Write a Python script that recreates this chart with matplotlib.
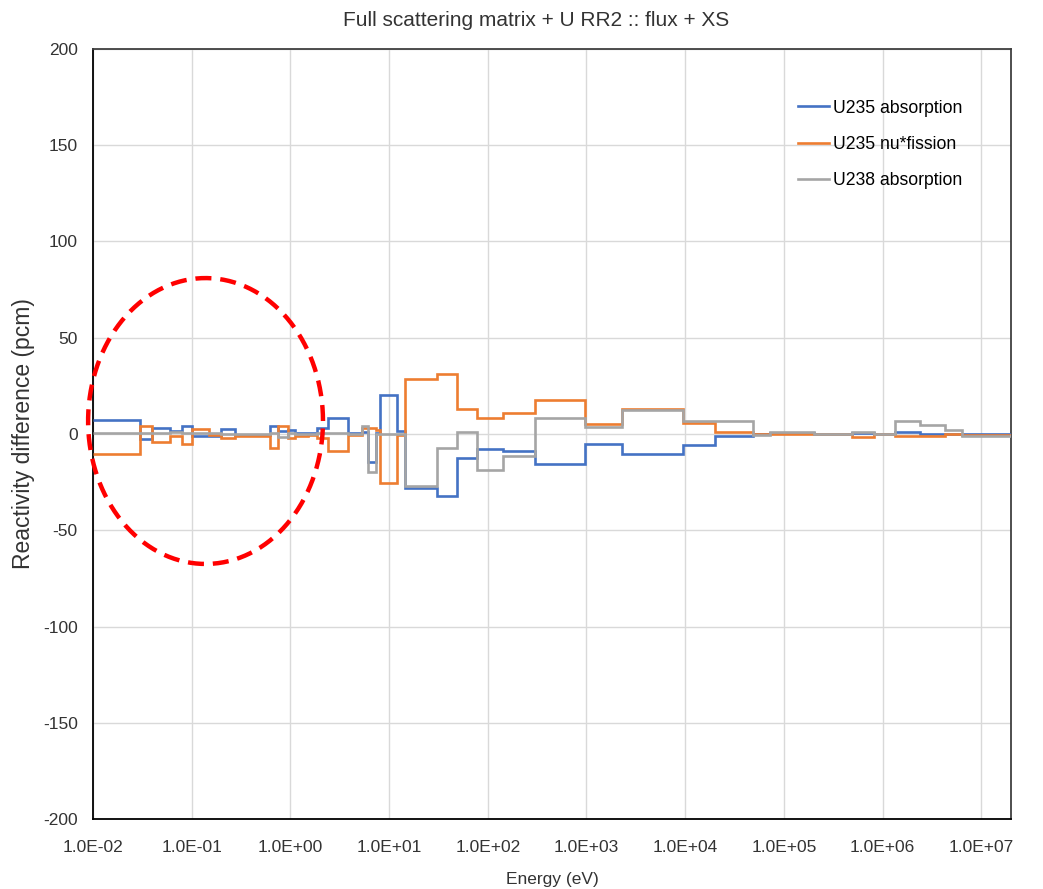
import numpy as np
import matplotlib.pyplot as plt

# ---------------- Data ----------------

# Energy group boundaries (eV), low to high
EDGES = [
    1.0e-2, 3.0e-2, 4.0e-2, 6.0e-2, 8.0e-2, 1.0e-1, 1.5e-1, 2.0e-1, 2.75e-1,
    6.25e-1, 7.5e-1, 9.5e-1, 1.12, 1.5, 1.87, 2.4, 3.85, 5.3, 6.1, 7.4,
    8.1, 12.1, 14.6, 30.7, 49.0, 78.0, 143.0, 303.0, 970.0, 2.3e3,
    9.6e3, 2.02e4, 4.9e4, 7.3e4, 2.0e5, 4.95e5, 8.1e5, 1.35e6, 2.42e6,
    4.33e6, 6.45e6, 2.0e7,
]

# Reactivity difference per group (pcm)
U235_ABS = [
    7.1, -2.8, 3.3, 1.5, 4.2, -1.0, -1.0, 2.4, -0.3,
    4.2, 1.5, 2.0, 0.7, 0.3, 3.0, 8.1, 0.5, 1.0, -14.4,
    0.5, 20.3, 1.5, -28.0, -32.2, -12.3, -8.0, -8.8, -15.4, -5.4,
    -10.5, -5.7, -1.0, 0.0, 0.3, 0.0, 0.3, 0.0, 1.2, 0.0,
    0.0, 0.0,
]
U235_NUFIS = [
    -10.2, 4.2, -4.0, -1.0, -5.4, 2.5, -0.5, -2.0, -1.0,
    -7.4, 4.0, -2.0, -1.0, -0.5, -2.0, -8.8, -0.5, 3.0, 3.3,
    2.0, -25.5, -0.5, 28.4, 31.0, 12.8, 8.5, 11.0, 17.7, 5.0,
    12.8, 5.9, 1.2, 0.0, -0.2, 0.0, -1.5, 0.0, -1.0, -1.0,
    0.0, -0.3,
]
U238_ABS = [
    0.7, 0.7, 0.5, 1.0, 0.5, 0.3, 0.3, 0.2, 0.0,
    0.5, -1.5, 0.3, 0.0, 0.0, 0.3, 0.3, 0.0, 4.0, -19.6,
    0.0, 0.0, 0.0, -27.2, -7.4, 1.2, -18.9, -11.4, 8.5, 3.8,
    12.5, 6.8, 6.8, -0.3, 1.2, 0.0, 1.2, 0.0, 7.0, 4.7,
    2.0, -1.0,
]

SERIES = [
    ("U235 absorption", U235_ABS, "#4472C4"),
    ("U235 nu*fission", U235_NUFIS, "#ED7D31"),
    ("U238 absorption", U238_ABS, "#A5A5A5"),
]

X_TICKS = [1e-2, 1e-1, 1e0, 1e1, 1e2, 1e3, 1e4, 1e5, 1e6, 1e7]
X_TICK_LABELS = ["1.0E-02", "1.0E-01", "1.0E+00", "1.0E+01", "1.0E+02",
                 "1.0E+03", "1.0E+04", "1.0E+05", "1.0E+06", "1.0E+07"]
Y_TICKS = [-200, -150, -100, -50, 0, 50, 100, 150, 200]

# Highlight ring around the thermal range: centre (log10 E, pcm) and half-sizes
RING_CENTER = (-0.86, 6.75)
RING_HALF = (1.19, 74.25)

# ---------------- Plot ----------------

plt.rcParams["font.family"] = ["Liberation Sans", "DejaVu Sans"]
plt.rcParams["axes.unicode_minus"] = False

fig = plt.figure(figsize=(10.43, 8.89), dpi=100)
ax = fig.add_axes([0.0892, 0.0787, 0.8801, 0.8662])

for label, vals, color in SERIES:
    ax.stairs(vals, EDGES, baseline=None, color=color, linewidth=1.9,
              label=label, zorder=3)

ax.set_xscale("log")
ax.set_xlim(1e-2, 2e7)
ax.set_ylim(-200, 200)
ax.set_xticks(X_TICKS)
ax.set_xticklabels(X_TICK_LABELS)
ax.minorticks_off()
ax.set_yticks(Y_TICKS)
ax.tick_params(axis="both", length=0, labelsize=12.5, colors="#333333")
ax.tick_params(axis="x", pad=15)
ax.tick_params(axis="y", pad=11)

ax.grid(True, color="#D9D9D9", linewidth=1.0, zorder=0)
ax.set_axisbelow(True)

for side in ["left", "bottom"]:
    ax.spines[side].set_color("black")
    ax.spines[side].set_linewidth(1.3)
for side in ["top", "right"]:
    ax.spines[side].set_color("#404040")
    ax.spines[side].set_linewidth(1.3)

# Dashed ring drawn in log-energy space so it stays round on the log axis
t = np.linspace(0, 2 * np.pi, 400)
ring_x = 10 ** (RING_CENTER[0] + RING_HALF[0] * np.cos(t))
ring_y = RING_CENTER[1] + RING_HALF[1] * np.sin(t)
ax.plot(ring_x, ring_y, color="#FF0000", linewidth=3.2,
        dashes=(3.6, 2.0), clip_on=False, zorder=4)

ax.set_xlabel("Energy (eV)", fontsize=12.5, color="#333333", labelpad=12)
ax.set_ylabel("Reactivity difference (pcm)", fontsize=16.5, color="#333333",
              labelpad=6)
fig.text(0.514, 0.977, "Full scattering matrix + U RR2 :: flux + XS",
         ha="center", va="center", fontsize=15, color="#333333")

ax.legend(loc="upper left", bbox_to_anchor=(0.765, 0.888),
          bbox_transform=fig.transFigure, frameon=False, fontsize=12.7,
          handlelength=1.75, handletextpad=0.25, labelspacing=1.1,
          borderpad=0, borderaxespad=0)

fig.savefig("out.png", dpi=100)
